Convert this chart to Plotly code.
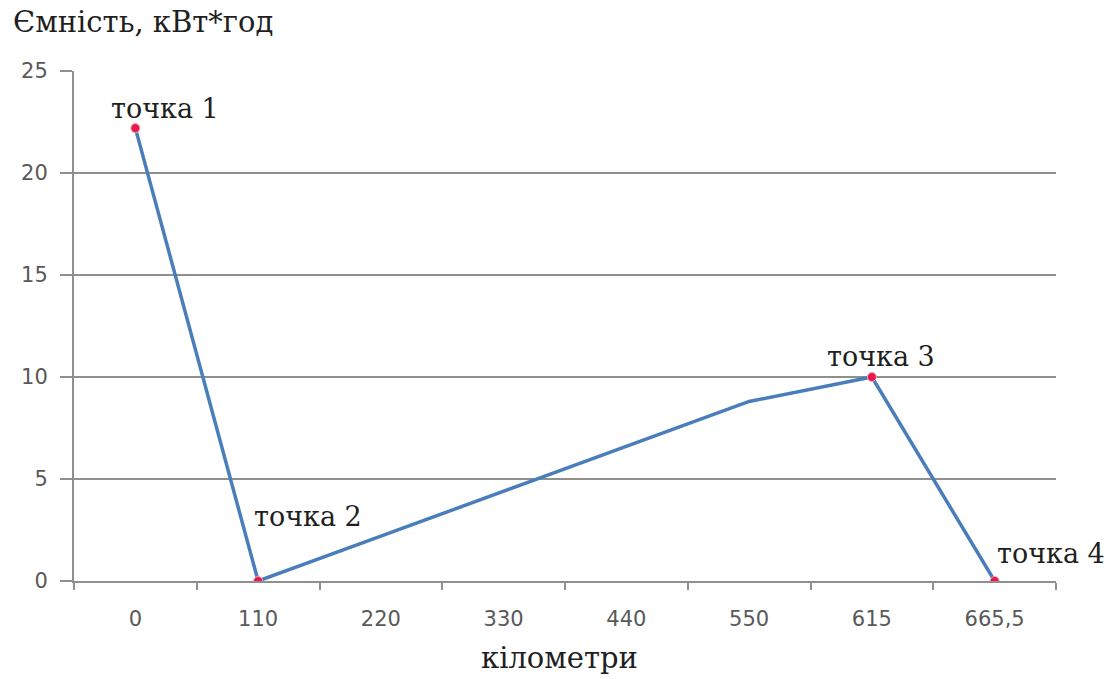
import plotly.graph_objects as go

# Distance along the route (km) and battery energy at each point (kWh)
km_labels = ["0", "110", "220", "330", "440", "550", "615", "665,5"]
energy_kwh = [22.2, 0.0, 2.2, 4.4, 6.6, 8.8, 10.0, 0.0]

# Named waypoints: category index, caption, caption offset in px
point_idx = [0, 1, 6, 7]
point_names = ["точка 1", "точка 2", "точка 3", "точка 4"]
point_dx = [30, 50, 9, 56]
point_dy = [20, 65, 21, 28]

y_ticks = [0, 5, 10, 15, 20, 25]

serif = "DejaVu Serif, serif"
sans = "DejaVu Sans, sans-serif"
line_blue = "#4a7ebb"
grid_grey = "#8f8f8f"
text_dark = "#1f1f1f"
tick_grey = "#595959"

fig = go.Figure()

fig.add_trace(go.Scatter(
    x=km_labels, y=energy_kwh, mode="lines",
    line=dict(color=line_blue, width=3.5),
    hoverinfo="skip", showlegend=False,
))

fig.add_trace(go.Scatter(
    x=[km_labels[i] for i in point_idx],
    y=[energy_kwh[i] for i in point_idx],
    mode="markers",
    marker=dict(size=9, color="#e8194b", line=dict(color="#f5a3b8", width=1)),
    hoverinfo="skip", showlegend=False,
))

# captions are anchored by category index so numeric-looking labels stay put
for i, name, dx, dy in zip(point_idx, point_names, point_dx, point_dy):
    fig.add_annotation(
        x=i, y=energy_kwh[i], xref="x", yref="y",
        text=name, showarrow=False, xshift=dx, yshift=dy,
        font=dict(family=serif, size=27, color=text_dark),
    )

fig.add_annotation(
    x=0, y=1, xref="paper", yref="paper", xanchor="left", yanchor="bottom",
    xshift=-63, yshift=30,
    text="Ємність, кВт*год", showarrow=False,
    font=dict(family=serif, size=29, color=text_dark),
)

fig.add_annotation(
    x=0.5, y=0, xref="paper", yref="paper", xanchor="center", yanchor="top",
    xshift=-6, yshift=-58,
    text="кілометри", showarrow=False,
    font=dict(family=serif, size=29, color=text_dark),
)

fig.update_layout(
    width=1117, height=679,
    margin=dict(l=74, r=61, t=71, b=98),
    paper_bgcolor="white", plot_bgcolor="white",
    xaxis=dict(
        type="category", range=[-0.5, 7.5],
        showline=True, linecolor=grid_grey, linewidth=2,
        ticks="outside", tickson="boundaries", ticklen=7,
        tickcolor=grid_grey, tickwidth=2,
        ticklabelstandoff=18,
        showgrid=False,
        tickfont=dict(family=sans, size=21, color=tick_grey),
    ),
    yaxis=dict(
        range=[0, 25], tickvals=y_ticks,
        showline=True, linecolor=grid_grey, linewidth=2,
        ticks="outside", ticklen=12, tickcolor=grid_grey, tickwidth=2,
        ticklabelstandoff=8,
        showgrid=True, gridcolor=grid_grey, gridwidth=2,
        zeroline=False,
        tickfont=dict(family=sans, size=21, color=tick_grey),
    ),
)

fig.write_html("out.html")
